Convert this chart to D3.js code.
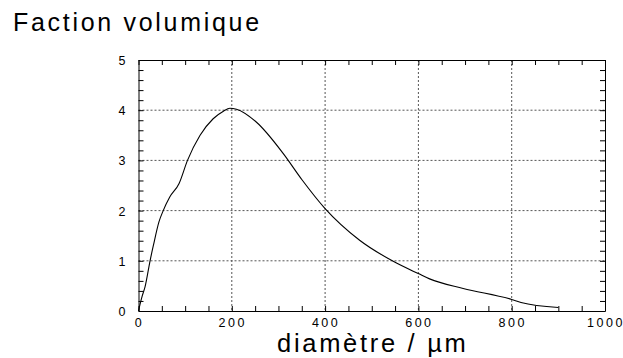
<!DOCTYPE html>
<html>
<head>
<meta charset="utf-8">
<script src="https://cdn.jsdelivr.net/npm/d3@7"></script>
<style>
  body { margin: 0; background: #fff; }
  text { font-family: "Liberation Sans", Arial, sans-serif; fill: #000; }
</style>
</head>
<body>
<div id="chart"></div>
<script>
var diam = [0, 3, 8, 14, 25, 32, 44, 53, 67, 87, 105, 132, 160, 182, 196, 210, 253, 310, 350, 400, 474, 546, 601, 624, 696, 800, 820, 900];
var frac = [0, 0.12, 0.3, 0.48, 1.01, 1.31, 1.78, 2.0, 2.27, 2.54, 3.0, 3.5, 3.83, 3.98, 4.04, 4.02, 3.76, 3.14, 2.62, 2.04, 1.41, 0.99, 0.74, 0.64, 0.45, 0.23, 0.17, 0.07];
var xTicks = [0, 200, 400, 600, 800, 1000];
var yTicks = [0, 1, 2, 3, 4, 5];

var width = 623, height = 358;
var plotLeft = 138.5, plotRight = 605, plotTop = 60, plotBottom = 311;

var svg = d3.select("#chart").append("svg")
  .attr("width", width)
  .attr("height", height);

var x = d3.scaleLinear().domain([0, 1000]).range([plotLeft, plotRight]);
var y = d3.scaleLinear().domain([0, 5]).range([plotBottom, plotTop]);

// grid
svg.selectAll(".gx")
  .data(xTicks.slice(1, -1))
  .enter().append("line")
  .attr("x1", function (d) { return x(d) }).attr("x2", function (d) { return x(d) })
  .attr("y1", plotTop).attr("y2", plotBottom)
  .attr("stroke", "#555").attr("stroke-dasharray", "2,2");

svg.selectAll(".gy")
  .data(yTicks.slice(1, -1))
  .enter().append("line")
  .attr("y1", function (d) { return y(d) }).attr("y2", function (d) { return y(d) })
  .attr("x1", plotLeft).attr("x2", plotRight)
  .attr("stroke", "#555").attr("stroke-dasharray", "2,2");

// axes with inward ticks
svg.append("g").attr("transform", "translate(0," + plotBottom + ")")
  .call(d3.axisTop(x).ticks(20).tickSize(5).tickSizeOuter(0).tickFormat(""));
svg.append("g").attr("transform", "translate(0," + plotTop + ")")
  .call(d3.axisBottom(x).ticks(20).tickSize(5).tickSizeOuter(0).tickFormat(""));
svg.append("g").attr("transform", "translate(" + plotLeft + ",0)")
  .call(d3.axisRight(y).ticks(25).tickSize(5).tickSizeOuter(0).tickFormat(""));
svg.append("g").attr("transform", "translate(" + plotRight + ",0)")
  .call(d3.axisLeft(y).ticks(25).tickSize(5).tickSizeOuter(0).tickFormat(""));
svg.selectAll(".domain").attr("stroke", "#000");
svg.selectAll(".tick line").attr("stroke", "#000");

// tick labels
svg.selectAll(".xl")
  .data(xTicks)
  .enter().append("text")
  .attr("x", function (d) { return x(d) + 1 })
  .attr("y", plotBottom + 16)
  .attr("text-anchor", "middle")
  .attr("font-size", 12.5)
  .attr("letter-spacing", 2.5)
  .text(function (d) { return d });

svg.selectAll(".yl")
  .data(yTicks)
  .enter().append("text")
  .attr("x", plotLeft - 13)
  .attr("y", function (d) { return y(d) + 5 })
  .attr("text-anchor", "end")
  .attr("font-size", 12.5)
  .text(function (d) { return d });

// curve
var line = d3.line()
  .x(function (d, i) { return x(diam[i]) })
  .y(function (d, i) { return y(frac[i]) })
  .curve(d3.curveMonotoneX);

svg.append("path")
  .datum(diam)
  .attr("d", line)
  .attr("fill", "none")
  .attr("stroke", "#000")
  .attr("stroke-width", 1.1);

// titles
svg.append("text")
  .attr("x", 13).attr("y", 31)
  .attr("font-size", 25)
  .attr("letter-spacing", 2.7)
  .text("Faction volumique");

svg.append("text")
  .attr("x", 277).attr("y", 351.5)
  .attr("font-size", 25.5)
  .attr("letter-spacing", 2.7)
  .text("diamètre / µm");
</script>
</body>
</html>
